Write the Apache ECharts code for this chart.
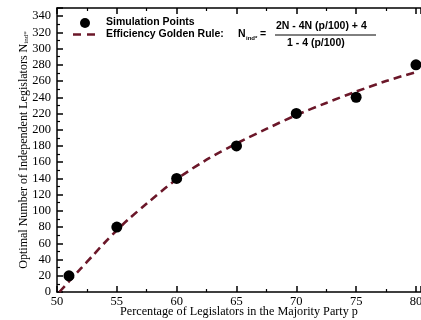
<!DOCTYPE html>
<html>
<head>
<meta charset="utf-8">
<style>
  html, body { margin: 0; padding: 0; background: #fff; }
  #chart { width: 421px; height: 320px; }
</style>
<script src="https://cdn.jsdelivr.net/npm/echarts@6/dist/echarts.min.js"></script>
</head>
<body>
<div id="chart"></div>
<script>
// Simulation results: optimal number of independent legislators vs. majority share p
const simP = [51, 55, 60, 65, 70, 75, 80];
const simN = [20, 80, 140, 180, 220, 240, 280];

// Efficiency golden rule curve, sampled
const ruleP = [50.2, 51, 52, 53, 54, 55, 56, 57.5, 60, 62.5, 65, 67.5, 70, 72.5, 75, 77.5, 80];
const ruleN = [0, 13, 29, 45, 61, 76, 90, 109, 139, 163, 183, 201, 218, 233, 247, 260, 271];

// Axis ranges and tick spacing
const xMin = 50, xMax = 80.42, xStep = 5;
const yMin = 0, yMax = 350, yStep = 20;

const serif = 'Liberation Serif';
const sans = 'Liberation Sans';
const ruleColor = '#6b1729';

const chart = echarts.init(document.getElementById('chart'), null, { renderer: 'canvas' });

const axisLine = { show: true, lineStyle: { color: '#000', width: 1.5 } };

chart.setOption({
  animation: false,
  backgroundColor: '#fff',
  grid: { left: 57, right: 0, top: 8, bottom: 28, containLabel: false, outerBoundsMode: 'none' },
  xAxis: [
    {
      type: 'value', min: xMin, max: xMax, interval: xStep, position: 'bottom',
      axisLine: axisLine,
      axisTick: { inside: true, length: 6, lineStyle: { color: '#000', width: 1.5 } },
      minorTick: { show: true, splitNumber: 2, length: 3, lineStyle: { color: '#000', width: 1.2 } },
      splitLine: { show: false },
      axisLabel: { color: '#000', fontFamily: serif, fontSize: 12.5, margin: 3, showMaxLabel: false, hideOverlap: false },
      name: 'Percentage of Legislators in the Majority Party p',
      nameLocation: 'middle', nameGap: 14, nameMoveOverlap: false,
      nameTextStyle: { color: '#000', fontFamily: serif, fontSize: 12.2 }
    },
    {
      type: 'value', min: xMin, max: xMax, interval: xStep, position: 'top',
      axisLine: axisLine,
      axisTick: { inside: true, length: 6, lineStyle: { color: '#000', width: 1.5 } },
      minorTick: { show: true, splitNumber: 2, length: 3, lineStyle: { color: '#000', width: 1.2 } },
      splitLine: { show: false },
      axisLabel: { show: false }
    }
  ],
  yAxis: {
    type: 'value', min: yMin, max: yMax, interval: yStep,
    axisLine: axisLine,
    axisTick: { inside: true, length: 6, lineStyle: { color: '#000', width: 1.5 } },
    minorTick: { show: true, splitNumber: 2, length: 3, lineStyle: { color: '#000', width: 1.2 } },
    splitLine: { show: false },
    axisLabel: { color: '#000', fontFamily: serif, fontSize: 12.5, margin: 6, showMaxLabel: false },
    name: '{t|Optimal Number of Independent Legislators N}{s|ind*}',
    nameLocation: 'middle', nameGap: 27, nameMoveOverlap: false,
    nameTextStyle: {
      color: '#000', fontFamily: serif, fontSize: 12,
      rich: {
        t: { fontFamily: serif, fontSize: 12, color: '#000' },
        s: { fontFamily: serif, fontSize: 7, color: '#000', verticalAlign: 'bottom', padding: [6, 0, 0, 0] }
      }
    }
  },
  series: [
    {
      name: 'Efficiency Golden Rule',
      type: 'line',
      data: ruleP.map((p, i) => [p, ruleN[i]]),
      smooth: 0.3,
      showSymbol: false,
      symbol: 'none',
      lineStyle: { color: ruleColor, width: 2.6, type: [8, 5] },
      z: 2
    },
    {
      name: 'Simulation Points',
      type: 'scatter',
      data: simP.map((p, i) => [p, simN[i]]),
      symbol: 'circle',
      symbolSize: 11,
      itemStyle: { color: '#000', opacity: 1 },
      z: 3
    }
  ],
  graphic: [
    // legend: simulation points
    { type: 'circle', shape: { cx: 85, cy: 23, r: 5 }, style: { fill: '#000' } },
    { type: 'text', left: 106, top: 17, style: { text: 'Simulation Points', font: 'bold 10.5px ' + sans, fill: '#000' } },
    // legend: golden rule
    { type: 'line', shape: { x1: 73, y1: 34.5, x2: 97, y2: 34.5 },
      style: { stroke: ruleColor, lineWidth: 2.6, lineDash: [8, 6] } },
    { type: 'text', left: 106, top: 28.5, style: { text: 'Efficiency Golden Rule:', font: 'bold 10.5px ' + sans, fill: '#000' } },
    { type: 'text', left: 238, top: 29, style: { text: 'N', font: 'bold 10.5px ' + sans, fill: '#000' } },
    { type: 'text', left: 246, top: 35, style: { text: 'ind*', font: 'bold 6px ' + sans, fill: '#000' } },
    { type: 'text', left: 260, top: 28.5, style: { text: '=', font: 'bold 10.5px ' + sans, fill: '#000' } },
    { type: 'text', left: 276, top: 21, style: { text: '2N - 4N (p/100) + 4', font: 'bold 10.5px ' + sans, fill: '#000' } },
    { type: 'line', shape: { x1: 275, y1: 35, x2: 376, y2: 35 }, style: { stroke: '#000', lineWidth: 1 } },
    { type: 'text', left: 287, top: 38, style: { text: '1 - 4 (p/100)', font: 'bold 10.5px ' + sans, fill: '#000' } }
  ]
});
</script>
</body>
</html>
